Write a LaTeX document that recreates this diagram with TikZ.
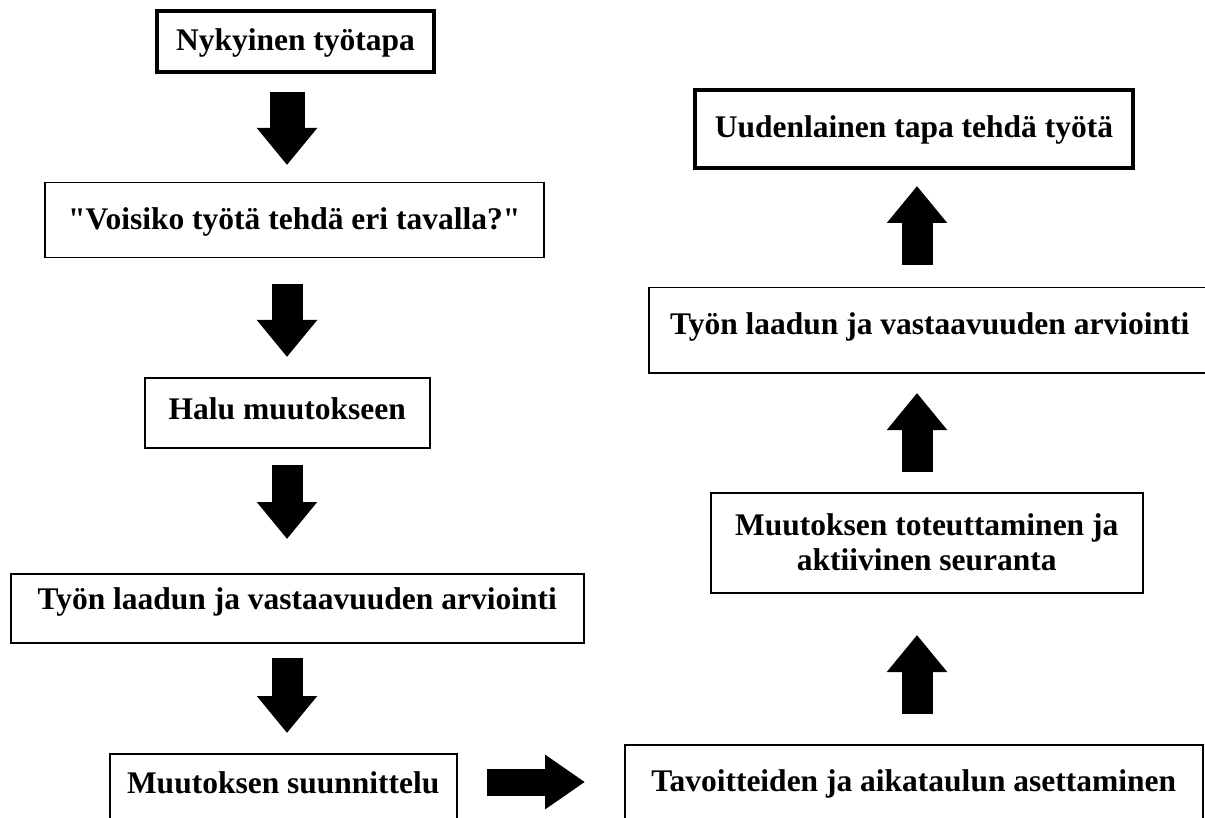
\documentclass[tikz,border=0pt]{standalone}
\usepackage{fontspec}
\setmainfont{Liberation Serif}[Ligatures=TeXOff]
\usetikzlibrary{arrows.meta}
\tikzset{
	box/.style={draw, line width=1.5pt, anchor=north west, inner sep=0pt, align=center, font=\bfseries\fontsize{31.5}{35}\selectfont},
	boldbox/.style={box, line width=4pt},
	fatarrow/.style={line width=31pt, -{Triangle[width=58pt,length=37pt]}},
	sidearrow/.style={line width=27pt, -{Triangle[width=52pt,length=40pt]}},
}

\begin{document}
\begin{tikzpicture}[x=1pt,y=-1pt]
			%%%%% START %%%%%
			\useasboundingbox (0,0) rectangle (1205,818);
			\clip (0,0) rectangle (1205,818);
			
			% left column
			\node[boldbox, minimum width=277, text height=40, text depth=21] (nyk) at (155,9) {Nykyinen työtapa};
			\node[box, minimum width=499, text height=47, text depth=28] (voisiko) at (44,182) {"Voisiko työtä tehdä eri tavalla?"};
			\node[box, minimum width=285, text height=42, text depth=28] (halu) at (144,377) {Halu muutokseen};
			\node[box, minimum width=573, text height=36, text depth=33] (arvL) at (10,573) {Työn laadun ja vastaavuuden arviointi};
			\node[box, minimum width=347, text height=40, text depth=60] (suunn) at (109,753) {Muutoksen suunnittelu};
			
			% right column
			\node[boldbox, minimum width=438, text height=48, text depth=30] (uusi) at (693,88) {Uudenlainen tapa tehdä työtä};
			\node[box, minimum width=562, text height=47, text depth=38] (arvR) at (648,287) {Työn laadun ja vastaavuuden arviointi};
			\node[box, minimum width=432, minimum height=100] (toteut) at (710,492) {Muutoksen toteuttaminen ja\\aktiivinen seuranta};
			\node[box, minimum width=578, text height=47, text depth=70] (tavoit) at (624,744) {Tavoitteiden ja aikataulun asettaminen};
			
			% arrows down
			\coordinate (d1a) at (287,92);  \coordinate (d1b) at (287,165);
			\coordinate (d2a) at (287,284); \coordinate (d2b) at (287,357);
			\coordinate (d3a) at (287,465); \coordinate (d3b) at (287,539);
			\coordinate (d4a) at (287,658); \coordinate (d4b) at (287,733);
			\draw[fatarrow, line width=35pt] (d1a) -- (d1b);
			\draw[fatarrow] (d2a) -- (d2b);
			\draw[fatarrow] (d3a) -- (d3b);
			\draw[fatarrow] (d4a) -- (d4b);
			
			% across
			\coordinate (sa) at (487,782); \coordinate (sb) at (585,782);
			\draw[sidearrow] (sa) -- (sb);
			
			% arrows up
			\coordinate (u1a) at (917,714); \coordinate (u1b) at (917,635);
			\coordinate (u2a) at (917,472); \coordinate (u2b) at (917,393);
			\coordinate (u3a) at (917,265); \coordinate (u3b) at (917,186);
			\draw[fatarrow] (u1a) -- (u1b);
			\draw[fatarrow] (u2a) -- (u2b);
			\draw[fatarrow] (u3a) -- (u3b);
			
			%%%%% END %%%%%
\end{tikzpicture}
\end{document}
